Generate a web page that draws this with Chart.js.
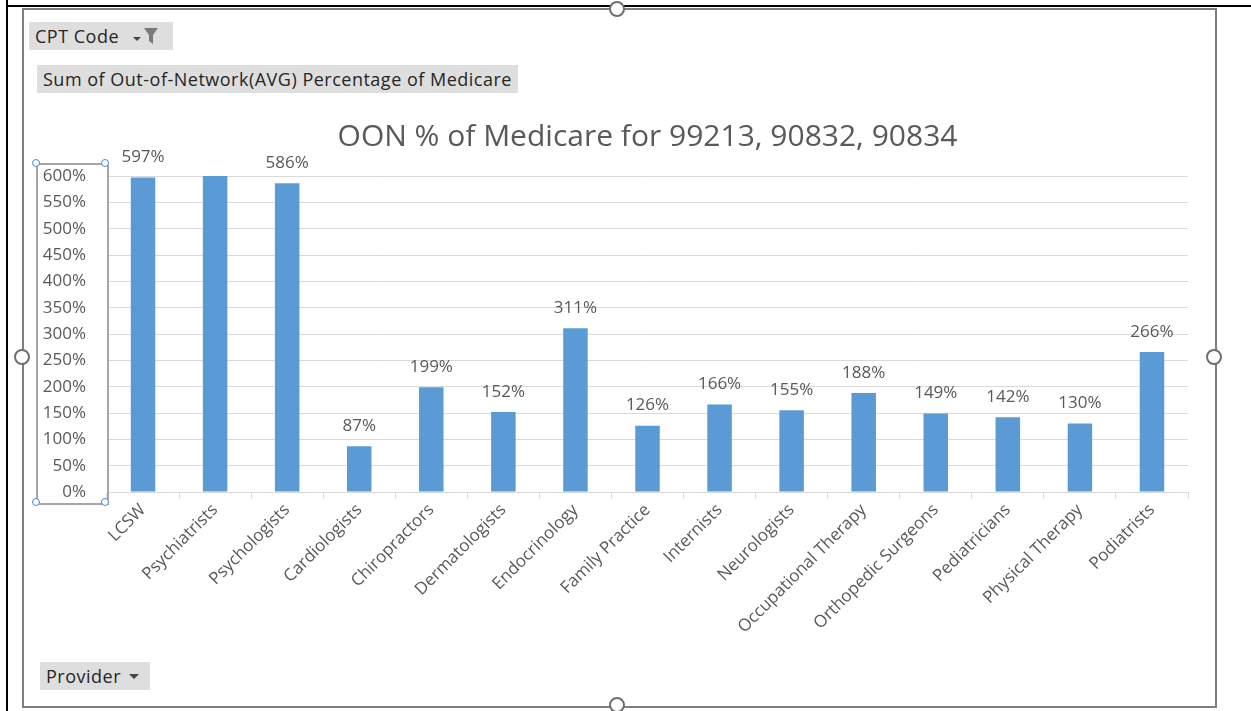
<!DOCTYPE html>
<html>
<head>
<meta charset="utf-8">
<script src="https://cdn.jsdelivr.net/npm/chart.js"></script>
<style>
  body { margin: 0; background: #fff; font-family: "Open Sans", sans-serif; }
  #wrap { position: relative; width: 1251px; height: 711px; overflow: hidden; }
  #myChart { position: absolute; left: 0; top: 0; }
  .line { position: absolute; background: #000; }
  .frame { position: absolute; left: 22px; top: 8px; width: 1191px; height: 696px; border: 2px solid #7f7f7f; }
  .handle { position: absolute; width: 12px; height: 12px; border: 2px solid #6f6f6f; border-radius: 50%; background: #fff; }
  .btn { position: absolute; background: #dedede; color: #262626; font-size: 18px; letter-spacing: 0.5px; line-height: 28px; padding: 0 6px; white-space: nowrap; }
  .btn svg { position: absolute; top: 0; }
  .axisbox { position: absolute; left: 36px; top: 163px; width: 69px; height: 338px; border: 2px solid #a6a6a6; }
  .dot { position: absolute; width: 6px; height: 6px; border: 1.5px solid #3d8fd6; border-radius: 50%; background: #fff; }
</style>
</head>
<body>
<div id="wrap">
  <div class="line" style="left:6px;top:0;width:2px;height:711px"></div>
  <div class="line" style="left:6px;top:5px;width:1245px;height:2px"></div>
  <div class="frame"></div>
  <div class="handle" style="left:609px;top:1px"></div>
  <div class="handle" style="left:609px;top:697px"></div>
  <div class="handle" style="left:14px;top:349px"></div>
  <div class="handle" style="left:1206px;top:349px"></div>
  <canvas id="myChart" width="1251" height="711"></canvas>
  <div class="btn" style="left:29px;top:22px;width:132px">CPT Code
    <svg style="left:104px" width="40" height="28"><path d="M0 15 h8 l-4 4 z" fill="#444"/><path d="M11 6 h14 l-5 7 v9 l-4 -3 v-6 z" fill="#7a7a7a"/></svg></div>
  <div class="btn" style="left:37px;top:65px">Sum of Out-of-Network(AVG) Percentage of Medicare</div>
  <div class="btn" style="left:40px;top:662px;width:98px">Provider
    <svg style="left:88px" width="16" height="28"><path d="M1 12 h10 l-5 5 z" fill="#444"/></svg></div>
  <div class="axisbox"></div>
  <div class="dot" style="left:32px;top:159px"></div>
  <div class="dot" style="left:101px;top:159px"></div>
  <div class="dot" style="left:32px;top:498px"></div>
  <div class="dot" style="left:101px;top:498px"></div>
</div>
<script>
const providers = ['LCSW', 'Psychiatrists', 'Psychologists', 'Cardiologists', 'Chiropractors',
  'Dermatologists', 'Endocrinology', 'Family Practice', 'Internists', 'Neurologists',
  'Occupational Therapy', 'Orthopedic Surgeons', 'Pediatricians', 'Physical Therapy', 'Podiatrists'];
const oonPercent = [597, 640, 586, 87, 199, 152, 311, 126, 166, 155, 188, 149, 142, 130, 266];
const yTicks = { min: 0, max: 600, step: 50 };

const textColor = '#595959';
const fontFamily = '"Open Sans", sans-serif';

// values above the axis max are clipped and get no label, like the original
const barLabels = {
  id: 'barLabels',
  afterDatasetsDraw(chart) {
    const ctx = chart.ctx;
    const meta = chart.getDatasetMeta(0);
    ctx.save();
    ctx.font = '17px ' + fontFamily;
    ctx.fillStyle = textColor;
    ctx.textAlign = 'center';
    ctx.textBaseline = 'middle';
    meta.data.forEach((bar, i) => {
      const v = oonPercent[i];
      if (v > yTicks.max) return;
      ctx.fillText(v + '%', bar.x, bar.y - 20);
    });
    ctx.restore();
  }
};

const ctx = document.getElementById('myChart').getContext('2d');
const myChart = new Chart(ctx, {
  type: 'bar',
  data: {
    labels: providers,
    datasets: [{
      data: oonPercent,
      backgroundColor: '#5b9bd5',
      barPercentage: 0.34,
      categoryPercentage: 1,
      clip: 0
    }]
  },
  options: {
    responsive: false,
    animation: false,
    layout: { padding: { left: 0, right: 63, top: 0, bottom: 0 } },
    plugins: {
      legend: { display: false },
      tooltip: { enabled: false },
      title: {
        display: true,
        text: 'OON % of Medicare for 99213, 90832, 90834',
        color: textColor,
        fullSize: false,
        font: { family: fontFamily, size: 30, weight: 'normal' },
        padding: { top: 119, bottom: 21 }
      }
    },
    scales: {
      x: {
        afterFit: s => { s.height = 219; },
        grid: { drawOnChartArea: false, tickLength: 6, color: '#d9d9d9' },
        border: { color: '#d9d9d9' },
        ticks: {
          color: textColor,
          font: { family: fontFamily, size: 17 },
          maxRotation: 45,
          minRotation: 45,
          autoSkip: false,
          padding: 2
        }
      },
      y: {
        min: yTicks.min,
        max: yTicks.max,
        afterFit: s => { s.width = 107; },
        grid: { color: '#d9d9d9', drawTicks: false },
        border: { display: false },
        ticks: {
          stepSize: yTicks.step,
          color: textColor,
          font: { family: fontFamily, size: 17 },
          padding: 21,
          callback: v => v + '%'
        }
      }
    }
  },
  plugins: [barLabels]
});
</script>
</body>
</html>
